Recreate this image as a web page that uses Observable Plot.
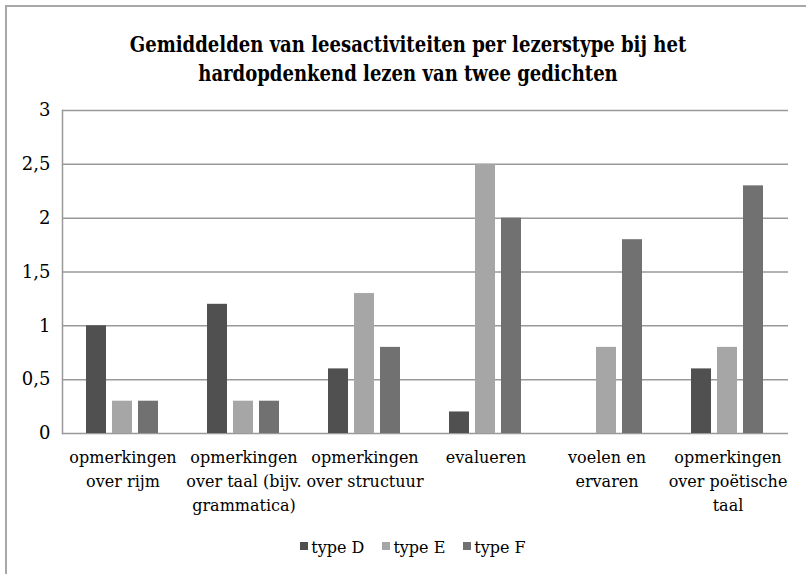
<!DOCTYPE html>
<html><head><meta charset="utf-8">
<script src="https://cdn.jsdelivr.net/npm/d3@7"></script>
<script src="https://cdn.jsdelivr.net/npm/@observablehq/plot@0.6"></script>
<style>
body{margin:0;background:#fff;color:#000;}
#wrap{position:relative;width:806px;height:574px;overflow:hidden;background:#fff;font-family:"DejaVu Serif","Liberation Serif",serif;}
#border{position:absolute;left:5px;top:5px;width:900px;height:700px;border-left:2px solid #a8a8a8;border-top:2px solid #a8a8a8;}
#title{position:absolute;top:30px;left:5px;width:806px;text-align:center;font-weight:bold;font-size:22px;line-height:29px;transform:scaleX(0.82);transform-origin:center;}
#chart{position:absolute;top:95px;left:0;}
#legend{position:absolute;top:536px;left:10px;width:806px;display:flex;justify-content:center;font-size:16px;line-height:24px;}
.item{margin:0 9px;white-space:nowrap;}
.sw{display:inline-block;width:8px;height:8px;margin-right:3px;vertical-align:3px;}
#chart svg, #chart svg text{font-family:"DejaVu Serif","Liberation Serif",serif !important;}
</style>
</head><body>
<div id="wrap">
<div id="border"></div>
<div id="title">Gemiddelden van leesactiviteiten per lezerstype bij het<br>hardopdenkend lezen van twee gedichten</div>
<div id="chart"></div>
<div id="legend"></div>
</div>
<script>
const categories = ["opmerkingen over rijm","opmerkingen over taal (bijv. grammatica)","opmerkingen over structuur","evalueren","voelen en ervaren","opmerkingen over poëtische taal"];
const categoryLabels = ["opmerkingen\nover rijm","opmerkingen\nover taal (bijv.\ngrammatica)","opmerkingen\nover structuur","evalueren","voelen en\nervaren","opmerkingen\nover poëtische\ntaal"];
const types = ["type D","type E","type F"];
const typeD = [1, 1.2, 0.6, 0.2, 0, 0.6];
const typeE = [0.3, 0.3, 1.3, 2.5, 0.8, 0.8];
const typeF = [0.3, 0.3, 0.8, 2, 1.8, 2.3];
const yTicks = [0, 0.5, 1, 1.5, 2, 2.5, 3];
const colors = ["#505050", "#a6a6a6", "#717171"];

const series = [typeD, typeE, typeF];
const data = categories.flatMap((c, i) => series.map((s, j) => ({cat: c, type: types[j], value: s[i]})));

const chart = Plot.plot({
  width: 806, height: 435,
  marginLeft: 59, marginRight: 16, marginTop: 15, marginBottom: 97,
  style: {fontSize: "16px", color: "#000", background: "transparent", overflow: "visible"},
  fx: {domain: categories, padding: 0, label: null},
  x: {domain: types, paddingInner: 0.222, paddingOuter: 0.867, axis: null},
  y: {domain: [0, 3], label: null},
  color: {domain: types, range: colors},
  marks: [
    Plot.gridY(yTicks, {stroke: "#999", strokeOpacity: 1, strokeWidth: 1.5}),
    Plot.frame({anchor: "left", facetAnchor: "left", stroke: "#999", strokeWidth: 1.5}),
    Plot.barY(data, {fx: "cat", x: "type", y: "value", fill: "type"}),
    Plot.axisY(yTicks, {tickSize: 0, tickPadding: 12, fontSize: 18, label: null,
      tickFormat: d => String(d).replace(".", ",")}),
    Plot.axisFx({anchor: "bottom", tickSize: 0, tickPadding: 12, fontSize: 16, lineHeight: 1.5, label: null,
      tickFormat: d => categoryLabels[categories.indexOf(d)]})
  ]
});
document.getElementById("chart").appendChild(chart);

const legend = document.getElementById("legend");
types.forEach((t, i) => {
  const item = document.createElement("span");
  item.className = "item";
  const sw = document.createElement("span");
  sw.className = "sw";
  sw.style.background = colors[i];
  item.appendChild(sw);
  item.appendChild(document.createTextNode(t));
  legend.appendChild(item);
});
</script>
</body></html>
